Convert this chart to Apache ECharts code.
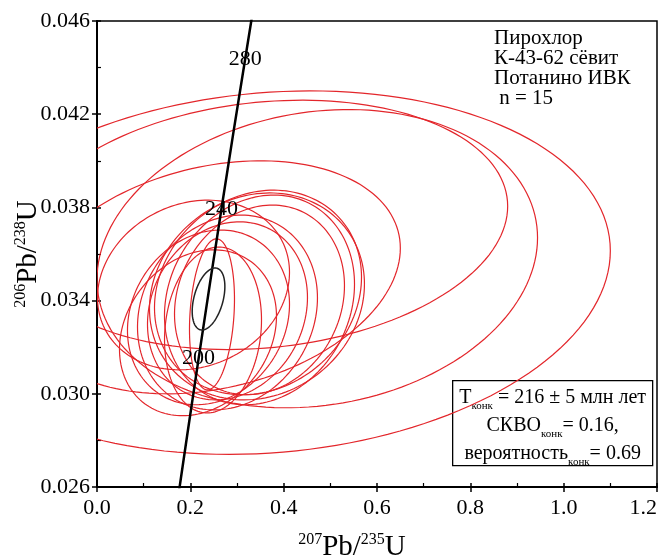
<!DOCTYPE html>
<html>
<head>
<meta charset="utf-8">
<script src="https://cdn.jsdelivr.net/npm/echarts@6/dist/echarts.min.js"></script>
<style>
  html, body { margin: 0; padding: 0; background: #fff; }
  #chart { width: 661px; height: 559px; }
</style>
</head>
<body>
<div id="chart"></div>
<script>
  // error ellipses: 207Pb/235U centre and half-width, 206Pb/238U centre and half-width, rho
  const ellX   = [0.370, 0.360, 0.472, 0.250, 0.3428, 0.3450, 0.3482, 0.3482, 0.2796, 0.2796, 0.2486, 0.2464, 0.2068, 0.2164, 0.2389];
  const ellSx  = [0.730, 0.520, 0.472, 0.400, 0.2303, 0.2218, 0.2036, 0.1821, 0.1928, 0.1714, 0.1039, 0.0482, 0.2057, 0.1682, 0.1736];
  const ellY   = [0.0352, 0.03725, 0.0358, 0.0350, 0.03418, 0.03435, 0.03403, 0.03403, 0.03349, 0.03356, 0.03274, 0.03341, 0.03467, 0.03262, 0.03328];
  const ellSy  = [0.0078, 0.00535, 0.0064, 0.0050, 0.00444, 0.00439, 0.00450, 0.00407, 0.00418, 0.00382, 0.00356, 0.00324, 0.00364, 0.00356, 0.00375];
  const ellRho = [0.12, 0.15, 0.14, 0.25, 0.12, 0.15, 0.15, 0.15, 0.15, 0.15, 0.12, 0.20, 0.15, 0.20, 0.15];

  // concordia age ellipse
  const concEll = [0.239, 0.035, 0.03407, 0.00133, 0.4];

  // concordia curve (Ma)
  const concAge = [160, 180, 200, 220, 240, 260, 280, 300];
  const concX   = [0.17067, 0.19396, 0.21770, 0.24191, 0.26664, 0.29183, 0.31752, 0.34374];
  const concY   = [0.025131, 0.028316, 0.031511, 0.034717, 0.037932, 0.041157, 0.044370, 0.047637];
  const ageTicks = [200, 240, 280];

  const noteLines = ['Пирохлор', 'К-43-62 сёвит', 'Потанино ИВК', ' n = 15'];

  const FONT = '"Liberation Serif", "Times New Roman", serif';
  const RED = '#e3262b';

  const myChart = echarts.init(document.getElementById('chart'));

  function ellipseItem(color, width) {
    return function (params, api) {
      const cx = api.value(0), sx = api.value(1), cy = api.value(2), sy = api.value(3), r = api.value(4);
      const k = Math.sqrt(1 - r * r);
      const pts = [];
      for (let j = 0; j < 160; j++) {
        const t = 2 * Math.PI * j / 160;
        pts.push(api.coord([cx + sx * Math.cos(t), cy + sy * (r * Math.cos(t) + k * Math.sin(t))]));
      }
      return {
        type: 'polygon',
        shape: { points: pts },
        style: { fill: 'none', stroke: color, lineWidth: width }
      };
    };
  }

  const ellData = ellX.map((x, i) => [x, ellSx[i], ellY[i], ellSy[i], ellRho[i]]);
  const ageData = ageTicks.map(a => {
    const i = concAge.indexOf(a);
    return [concX[i], concY[i], a];
  });

  const xBase = { type: 'value', min: 0, max: 1.2, interval: 0.2, gridIndex: 0, position: 'bottom' };
  const yBase = { type: 'value', min: 0.026, max: 0.046, interval: 0.004, gridIndex: 0, position: 'left' };

  myChart.setOption({
    animation: false,
    backgroundColor: '#fff',
    grid: {
      left: 97, top: 21, width: 560, height: 466,
      containLabel: false,
      outerBoundsMode: 'none',
      show: true, borderColor: '#000', borderWidth: 1.5, backgroundColor: 'transparent'
    },
    xAxis: [
      Object.assign({}, xBase, {
        name: '{s|207}{b|Pb/}{s|235}{b|U}',
        nameLocation: 'middle',
        nameGap: 45,
        nameMoveOverlap: false,
        nameTextStyle: {
          padding: [0, 50, 0, 0],
          rich: {
            b: { fontFamily: FONT, fontSize: 29, color: '#000', lineHeight: 30 },
            s: { fontFamily: FONT, fontSize: 16, color: '#000', verticalAlign: 'top', lineHeight: 16 }
          }
        },
        axisLine: { lineStyle: { color: '#000', width: 2 } },
        axisTick: { inside: false, length: 5, lineStyle: { color: '#000', width: 1.5 } },
        axisLabel: {
          fontFamily: FONT, fontSize: 22, color: '#000', margin: 10,
          alignMaxLabel: 'right',
          formatter: v => v.toFixed(1)
        },
        splitLine: { show: false }
      }),
      Object.assign({}, xBase, {
        axisLine: { show: false },
        axisTick: { inside: true, length: 4, lineStyle: { color: '#000', width: 1.5 } },
        minorTick: { show: true, splitNumber: 2, length: 4, lineStyle: { color: '#000', width: 1.2 } },
        axisLabel: { show: false },
        splitLine: { show: false }
      })
    ],
    yAxis: [
      Object.assign({}, yBase, {
        name: '{s|206}{b|Pb/}{s|238}{b|U}',
        nameLocation: 'middle',
        nameRotate: 90,
        nameGap: 54,
        nameMoveOverlap: false,
        nameTextStyle: {
          rich: {
            b: { fontFamily: FONT, fontSize: 29, color: '#000', lineHeight: 30 },
            s: { fontFamily: FONT, fontSize: 16, color: '#000', verticalAlign: 'top', lineHeight: 16 }
          }
        },
        axisLine: { lineStyle: { color: '#000', width: 2 } },
        axisTick: { inside: false, length: 5, lineStyle: { color: '#000', width: 1.5 } },
        axisLabel: { fontFamily: FONT, fontSize: 22, color: '#000', margin: 7, formatter: v => v.toFixed(3) },
        splitLine: { show: false }
      }),
      Object.assign({}, yBase, {
        axisLine: { show: false },
        axisTick: { inside: true, length: 4, lineStyle: { color: '#000', width: 1.5 } },
        minorTick: { show: true, splitNumber: 2, length: 4, lineStyle: { color: '#000', width: 1.2 } },
        axisLabel: { show: false },
        splitLine: { show: false }
      })
    ],
    series: [
      {
        type: 'custom',
        name: 'points',
        clip: true,
        encode: { x: 0, y: 2 },
        renderItem: ellipseItem(RED, 1.2),
        data: ellData,
        z: 2
      },
      {
        type: 'line',
        name: 'concordia',
        data: concX.map((x, i) => [x, concY[i]]),
        symbol: 'none',
        lineStyle: { color: '#000', width: 2.5 },
        clip: true,
        z: 3
      },
      {
        type: 'custom',
        name: 'age',
        clip: true,
        encode: { x: 0, y: 2 },
        renderItem: ellipseItem('#222', 1.5),
        data: [concEll],
        z: 4
      },
      {
        type: 'scatter',
        name: 'ticks',
        data: ageData,
        symbolSize: 1,
        itemStyle: { color: 'transparent' },
        label: {
          show: true,
          position: 'inside',
          fontFamily: FONT,
          fontSize: 22,
          color: '#000',
          textBorderWidth: 0,
          opacity: 1,
          formatter: p => String(p.value[2])
        },
        z: 5
      }
    ],
    graphic: [
      {
        type: 'text',
        left: 494,
        top: 28,
        z: 100,
        style: {
          text: noteLines.join('\n'),
          font: '21px ' + FONT,
          fill: '#000',
          lineHeight: 20
        }
      },
      {
        type: 'group',
        left: 452,
        top: 380,
        z: 100,
        children: [
          {
            type: 'rect',
            shape: { x: 0, y: 0, width: 200, height: 85 },
            style: { fill: '#fff', stroke: '#000', lineWidth: 1.3 }
          },
          {
            type: 'text',
            x: 100,
            y: 3,
            style: {
              text: '{n|T}{s|конк}{n| = 216 ± 5 млн лет}\n{n|СКВО}{s|конк}{n|= 0.16,}\n{n|вероятность}{s|конк}{n|= 0.69}',
              align: 'center',
              verticalAlign: 'top',
              fill: '#000',
              rich: {
                n: { fontFamily: FONT, fontSize: 20, lineHeight: 28, fill: '#000' },
                s: { fontFamily: FONT, fontSize: 11, lineHeight: 12, verticalAlign: 'bottom', fill: '#000' }
              }
            }
          }
        ]
      }
    ]
  });

  window.addEventListener('resize', () => {
    if (myChart) myChart.resize();
  });
</script>
</body>
</html>
